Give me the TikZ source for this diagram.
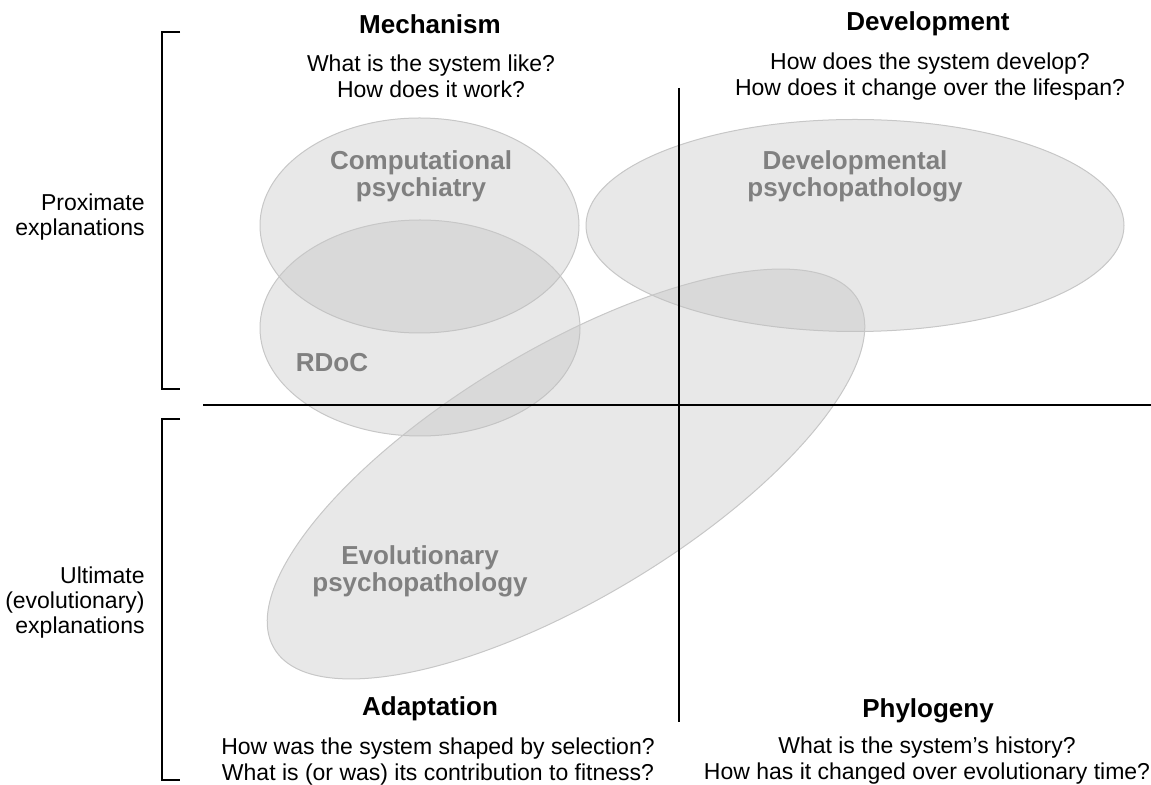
\documentclass[tikz,border=0pt]{standalone}
\usepackage{fontspec}
\setmainfont{Liberation Sans}

\begin{document}
\begin{tikzpicture}[x=0.5pt, y=-0.5pt,
  blob/.style={fill=black!25, fill opacity=0.36, draw=black!22, line width=0.5pt},
  field/.style={font=\fontsize{13}{13.5}\selectfont\bfseries, text=black!50, align=center, inner sep=0pt},
  head/.style={font=\fontsize{13}{14}\selectfont\bfseries, inner sep=0pt},
  quest/.style={font=\fontsize{11.5}{13}\selectfont, align=center, inner sep=0pt},
  side/.style={font=\fontsize{11.5}{12.5}\selectfont, align=right, anchor=east, inner sep=0pt},
  axis/.style={line width=0.8pt, black}]

\useasboundingbox (0,0) rectangle (1151,785);

% the four research fields
\draw[blob] (419.5,225.5) ellipse [x radius=159.5, y radius=107.5];
\draw[blob] (420,328) ellipse [x radius=160, y radius=108];
\draw[blob] (855,225.5) ellipse [x radius=269, y radius=106];
\draw[blob, rotate around={30.9:(566,474)}] (566,474) ellipse [x radius=340, y radius=125];

\node[field] (comp) at (421,176) {Computational\\psychiatry};
\node[field] (rdoc) at (332,363) {RDoC};
\node[field] (devp) at (855,176) {Developmental\\psychopathology};
\node[field] (evop) at (420,571) {Evolutionary\\psychopathology};

% axes
\draw[axis] (203,405) -- (1151,405);
\draw[axis] (679,88) -- (679,722);

% brackets
\draw[line width=0.6pt] (180,32) -- (162,32) -- (162,389) -- (180,389);
\draw[line width=0.6pt] (180,419) -- (162,419) -- (162,780) -- (180,780);
\node[side] (prox) at (145,217) {Proximate\\explanations};
\node[side] (ult) at (145,603) {Ultimate\\(evolutionary)\\explanations};

% quadrant headings
\node[head] (mech) at (430,24) {Mechanism};
\node[quest] (mechq) at (431,76) {What is the system like?\\How does it work?};
\node[head] (dev) at (928,24) {Development};
\node[quest] (devq) at (930,77) {How does the system develop?\\How does it change over the lifespan?};
\node[head] (adap) at (430,709) {Adaptation};
\node[quest] (adapq) at (438,762) {How was the system shaped by selection?\\What is (or was) its contribution to fitness?};
\node[head] (phyl) at (928,711) {Phylogeny};
\node[quest] (phylq) at (927,761) {What is the system’s history?\\How has it changed over evolutionary time?};

\end{tikzpicture}
\end{document}
